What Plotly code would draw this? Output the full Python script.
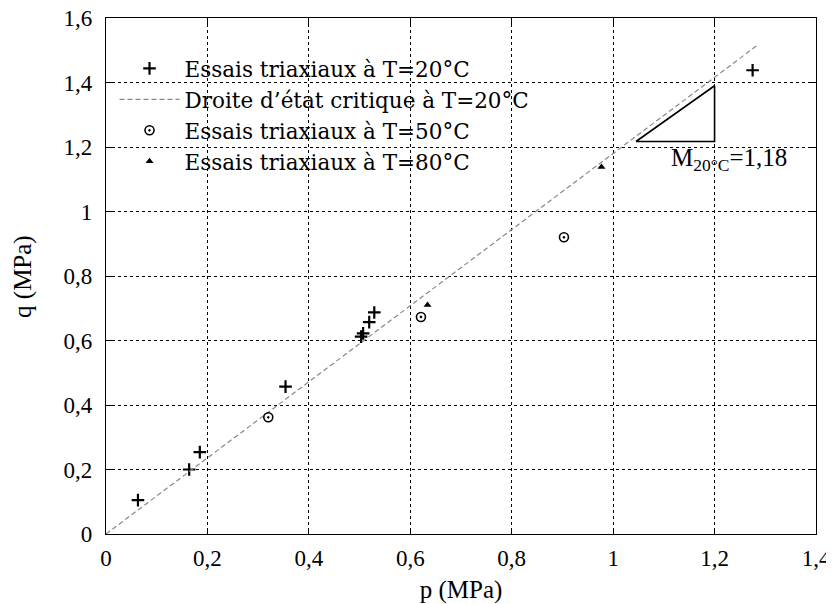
import plotly.graph_objects as go

# Data
p20 = [0.063, 0.164, 0.185, 0.354, 0.503, 0.507, 0.519, 0.529, 1.275]
q20 = [0.105, 0.200, 0.254, 0.457, 0.612, 0.622, 0.657, 0.687, 1.438]
p50 = [0.320, 0.621, 0.903]
q50 = [0.362, 0.673, 0.920]
p80 = [0.634, 0.977]
q80 = [0.710, 1.138]
M = 1.18
line_p = [0.0, 1.285]
line_q = [0.0, M * 1.285]
tri_p = [1.045, 1.2, 1.2, 1.045]
tri_q = [1.217, 1.217, 1.39, 1.217]
xticks = [0, 0.2, 0.4, 0.6, 0.8, 1.0, 1.2, 1.4]
xtick_text = ["0", "0,2", "0,4", "0,6", "0,8", "1", "1,2", "1,4"]
yticks = [0, 0.2, 0.4, 0.6, 0.8, 1.0, 1.2, 1.4, 1.6]
ytick_text = ["0", "0,2", "0,4", "0,6", "0,8", "1", "1,2", "1,4", "1,6"]

FONT = "Liberation Serif, serif"
LEGFONT = "DejaVu Serif, serif"

fig = go.Figure()
fig.add_trace(go.Scatter(x=p20, y=q20, mode="markers", name="Essais triaxiaux à T=20°C",
                         marker=dict(symbol="cross-thin", size=9, color="black",
                                     line=dict(width=2.2, color="black"))))
fig.add_trace(go.Scatter(x=line_p, y=line_q, mode="lines", name="Droite d’état critique à T=20°C",
                         line=dict(color="#888888", width=1.2, dash="5px,3px")))
fig.add_trace(go.Scatter(x=p50, y=q50, mode="markers", name="Essais triaxiaux à T=50°C",
                         marker=dict(symbol="circle-open-dot", size=9, color="black",
                                     line=dict(width=1.6, color="black"))))
fig.add_trace(go.Scatter(x=p80, y=q80, mode="markers", name="Essais triaxiaux à T=80°C",
                         marker=dict(symbol="triangle-up", size=7, color="black")))
fig.add_trace(go.Scatter(x=tri_p, y=tri_q, mode="lines", showlegend=False,
                         line=dict(color="black", width=1.6)))

fig.add_annotation(x=1.11, y=1.16, xref="x", yref="y", xanchor="left", yanchor="middle",
                   text="M<sub>20°C</sub>=1,18", showarrow=False,
                   font=dict(family=FONT, size=25, color="black"))

# y-axis title as rotated annotation for precise placement
fig.add_annotation(x=-0.117, y=0.5, xref="paper", yref="paper", xanchor="center",
                   yanchor="middle", text="q (MPa)", textangle=-90, showarrow=False,
                   font=dict(family=FONT, size=25, color="black"))

axis_common = dict(showline=True, linecolor="black", linewidth=1.2, mirror="ticks",
                   ticks="inside", ticklen=6, tickcolor="black", automargin=False,
                   ticklabeloverflow="allow",
                   showgrid=True, gridcolor="black", gridwidth=1, griddash="dot",
                   zeroline=False, tickfont=dict(family=FONT, size=23, color="black"))

fig.update_layout(
    width=826, height=596,
    margin=dict(l=98, r=18, t=10, b=70),
    plot_bgcolor="white", paper_bgcolor="white",
    font=dict(family=FONT, size=23, color="black"),
    xaxis=dict(range=[0, 1.4], tickvals=xticks, ticktext=xtick_text, ticklabelstandoff=3,
               title=dict(text="p (MPa)", font=dict(family=FONT, size=25), standoff=14),
               **axis_common),
    yaxis=dict(range=[0, 1.6], tickvals=yticks, ticktext=ytick_text, ticklabelstandoff=8,
               **axis_common),
    legend=dict(x=0.012, y=0.942, xanchor="left", yanchor="top",
                bgcolor="rgba(0,0,0,0)", font=dict(family=LEGFONT, size=21.5, color="black"),
                tracegroupgap=0, itemwidth=60),
    showlegend=True,
)

fig.write_html("out.html")
